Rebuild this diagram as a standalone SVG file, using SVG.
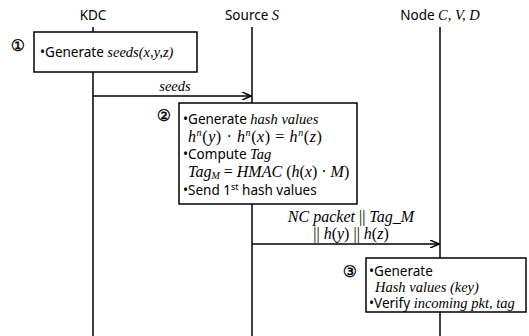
<svg xmlns="http://www.w3.org/2000/svg" width="529" height="336" viewBox="0 0 529 336">
<defs>
<marker id="ah" markerWidth="10" markerHeight="8" refX="9" refY="4" orient="auto" markerUnits="userSpaceOnUse">
<path d="M0,0 L9,4 L0,8" fill="none" stroke="#000" stroke-width="1.5"/>
</marker>
<style>
.s{font-family:"Noto Sans","Open Sans",sans-serif;font-size:13.5px;fill:#000}
.i{font-family:"Liberation Serif",serif;font-style:italic;font-size:14.5px;fill:#000}
.m{font-family:"Liberation Serif",serif;font-style:italic;font-size:16px;fill:#000}
.box{fill:#fff;stroke:#000;stroke-width:1.5}
.life{stroke:#000;stroke-width:1.5}
.num{font-family:"DejaVu Sans",sans-serif;font-size:16px;fill:#000;stroke:#000;stroke-width:0.4}
</style>
</defs>
<rect width="529" height="336" fill="#fff"/>
<g id="lifelines">
<line class="life" x1="93" y1="27" x2="93" y2="336"/>
<line class="life" x1="252" y1="27" x2="252" y2="336"/>
<line class="life" x1="440" y1="27" x2="440" y2="336"/>
</g>
<g id="headers">
<text class="s" x="93" y="20" text-anchor="middle">KDC</text>
<text x="252" y="20" text-anchor="middle"><tspan class="s">Source </tspan><tspan class="i">S</tspan></text>
<text x="440" y="20" text-anchor="middle"><tspan class="s">Node </tspan><tspan class="i">C, V, D</tspan></text>
</g>
<g id="connectors">
<line x1="93" y1="96" x2="251" y2="96" stroke="#000" stroke-width="1.5" marker-end="url(#ah)"/>
<text class="i" x="175" y="91" text-anchor="middle">seeds</text>
<line x1="252" y1="244" x2="439" y2="244" stroke="#000" stroke-width="1.5" marker-end="url(#ah)"/>
<text class="m" x="351" y="222" text-anchor="middle">NC packet <tspan font-style="normal">||</tspan> Tag_M</text>
<text class="m" x="351" y="239" text-anchor="middle"><tspan font-style="normal">||</tspan> h<tspan font-style="normal">(</tspan>y<tspan font-style="normal">) || </tspan>h<tspan font-style="normal">(</tspan>z<tspan font-style="normal">)</tspan></text>
</g>
<g id="step1">
<text class="num" x="18" y="51" text-anchor="middle">①</text>
<rect class="box" x="34" y="32" width="163" height="40"/>
<text x="40" y="57"><tspan class="s">•Generate </tspan><tspan class="i">seeds(x,y,z)</tspan></text>
</g>
<g id="step2">
<text class="num" x="164" y="121" text-anchor="middle">②</text>
<rect class="box" x="179" y="103" width="178" height="101"/>
<text x="183" y="124"><tspan class="s">•Generate </tspan><tspan class="i">hash values</tspan></text>
<text class="m" x="188" y="142" letter-spacing="0.6">h<tspan font-size="10" dy="-6">n</tspan><tspan dy="6" font-style="normal">(</tspan>y<tspan font-style="normal">) · </tspan>h<tspan font-size="10" dy="-6">n</tspan><tspan dy="6" font-style="normal">(</tspan>x<tspan font-style="normal">) = </tspan>h<tspan font-size="10" dy="-6">n</tspan><tspan dy="6" font-style="normal">(</tspan>z<tspan font-style="normal">)</tspan></text>
<text x="183" y="159"><tspan class="s">•Compute </tspan><tspan class="i">Tag</tspan></text>
<text class="m" x="188" y="177" font-size="15.5">Tag<tspan font-size="10" dy="2">M</tspan><tspan dy="-2" font-style="normal"> = </tspan>HMAC<tspan font-style="normal"> (</tspan>h<tspan font-style="normal">(</tspan>x<tspan font-style="normal">) · </tspan>M<tspan font-style="normal">)</tspan></text>
<text class="s" x="183" y="195">•Send 1<tspan font-size="9" dy="-5">st</tspan><tspan dy="5"> hash values</tspan></text>
</g>
<g id="step3">
<text class="num" x="350" y="277" text-anchor="middle">③</text>
<rect class="box" x="366" y="258" width="160" height="54"/>
<text class="s" x="369" y="276">•Generate</text>
<text class="i" x="375" y="292">Hash values (key)</text>
<text x="369" y="308"><tspan class="s">•Verify </tspan><tspan class="i">incoming pkt, tag</tspan></text>
</g>
</svg>
